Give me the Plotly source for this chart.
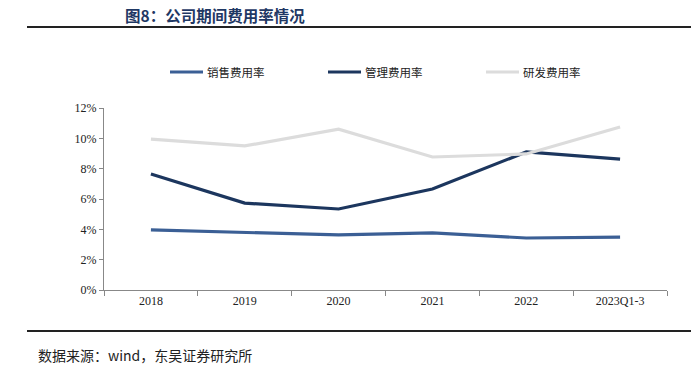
import plotly.graph_objects as go

categories = ["2018", "2019", "2020", "2021", "2022", "2023Q1-3"]
sales_rate = [3.96, 3.82, 3.63, 3.76, 3.43, 3.49]
admin_rate = [7.65, 5.73, 5.34, 6.66, 9.10, 8.63]
rd_rate = [9.95, 9.50, 10.60, 8.77, 8.97, 10.75]
y_ticks = [0, 2, 4, 6, 8, 10, 12]
y_tick_labels = [f"{v}%" for v in y_ticks]

series = [
    ("销售费用率", sales_rate, "#3B5F95"),
    ("管理费用率", admin_rate, "#1C365E"),
    ("研发费用率", rd_rate, "#DCDCDC"),
]
legend_x = [170, 328, 486]

serif = "Liberation Serif, Times New Roman, serif"
cjk = "Noto Sans CJK SC, sans-serif"

# page body has an 8px margin; work in screen pixels and convert
OFF = 8
W, H = 699 - OFF, 366 - OFF
L, R, T, B = 104 - OFF, 32, 108 - OFF, 76
pw, ph = W - L - R, H - T - B

def px(x):
    return (x - OFF - L) / pw

def py(y):
    return (H - B - (y - OFF)) / ph

fig = go.Figure()
shapes = [
    dict(type="line", xref="paper", yref="paper", x0=px(27), x1=px(699),
         y0=py(27), y1=py(27), line=dict(color="#222222", width=2)),
    dict(type="line", xref="paper", yref="paper", x0=px(27), x1=px(699),
         y0=py(331), y1=py(331), line=dict(color="#222222", width=2)),
]
annotations = [
    dict(text="<b>图8：公司期间费用率情况</b>", xref="paper", yref="paper",
         x=px(123), y=py(15), xanchor="left", yanchor="middle", showarrow=False,
         font=dict(family=cjk, size=15.5, color="#1F3864")),
    dict(text="数据来源：wind，东吴证券研究所", xref="paper", yref="paper",
         x=px(36), y=py(355), xanchor="left", yanchor="middle", showarrow=False,
         font=dict(family=cjk, size=14, color="#222222")),
]
for (name, vals, color), lx in zip(series, legend_x):
    fig.add_trace(go.Scatter(x=categories, y=vals, name=name, mode="lines",
                             line=dict(color=color, width=3.2), showlegend=False))
    shapes.append(dict(type="line", xref="paper", yref="paper", x0=px(lx), x1=px(lx + 33),
                       y0=py(72), y1=py(72), line=dict(color=color, width=3.2)))
    annotations.append(dict(text=name, xref="paper", yref="paper", x=px(lx + 35), y=py(72),
                            xanchor="left", yanchor="middle", showarrow=False,
                            font=dict(family=cjk, size=11.5, color="#222222")))

fig.update_layout(
    width=W, height=H,
    margin=dict(l=L, r=R, t=T, b=B, autoexpand=False),
    paper_bgcolor="white", plot_bgcolor="white",
    showlegend=False,
    xaxis=dict(type="category", showgrid=False, showline=True, linecolor="#888888",
               linewidth=1, ticks="outside", tickson="boundaries", ticklen=5,
               tickcolor="#888888", tickfont=dict(family=serif, size=12, color="#222222"),
               range=[-0.5, 5.5]),
    yaxis=dict(range=[0, 12], tickvals=y_ticks, ticktext=y_tick_labels, showgrid=False,
               showline=True, linecolor="#888888", linewidth=1, ticks="outside",
               ticklen=4, tickcolor="#888888", zeroline=False,
               tickfont=dict(family=serif, size=12, color="#222222")),
    shapes=shapes,
    annotations=annotations,
)

fig.write_html("out.html")
